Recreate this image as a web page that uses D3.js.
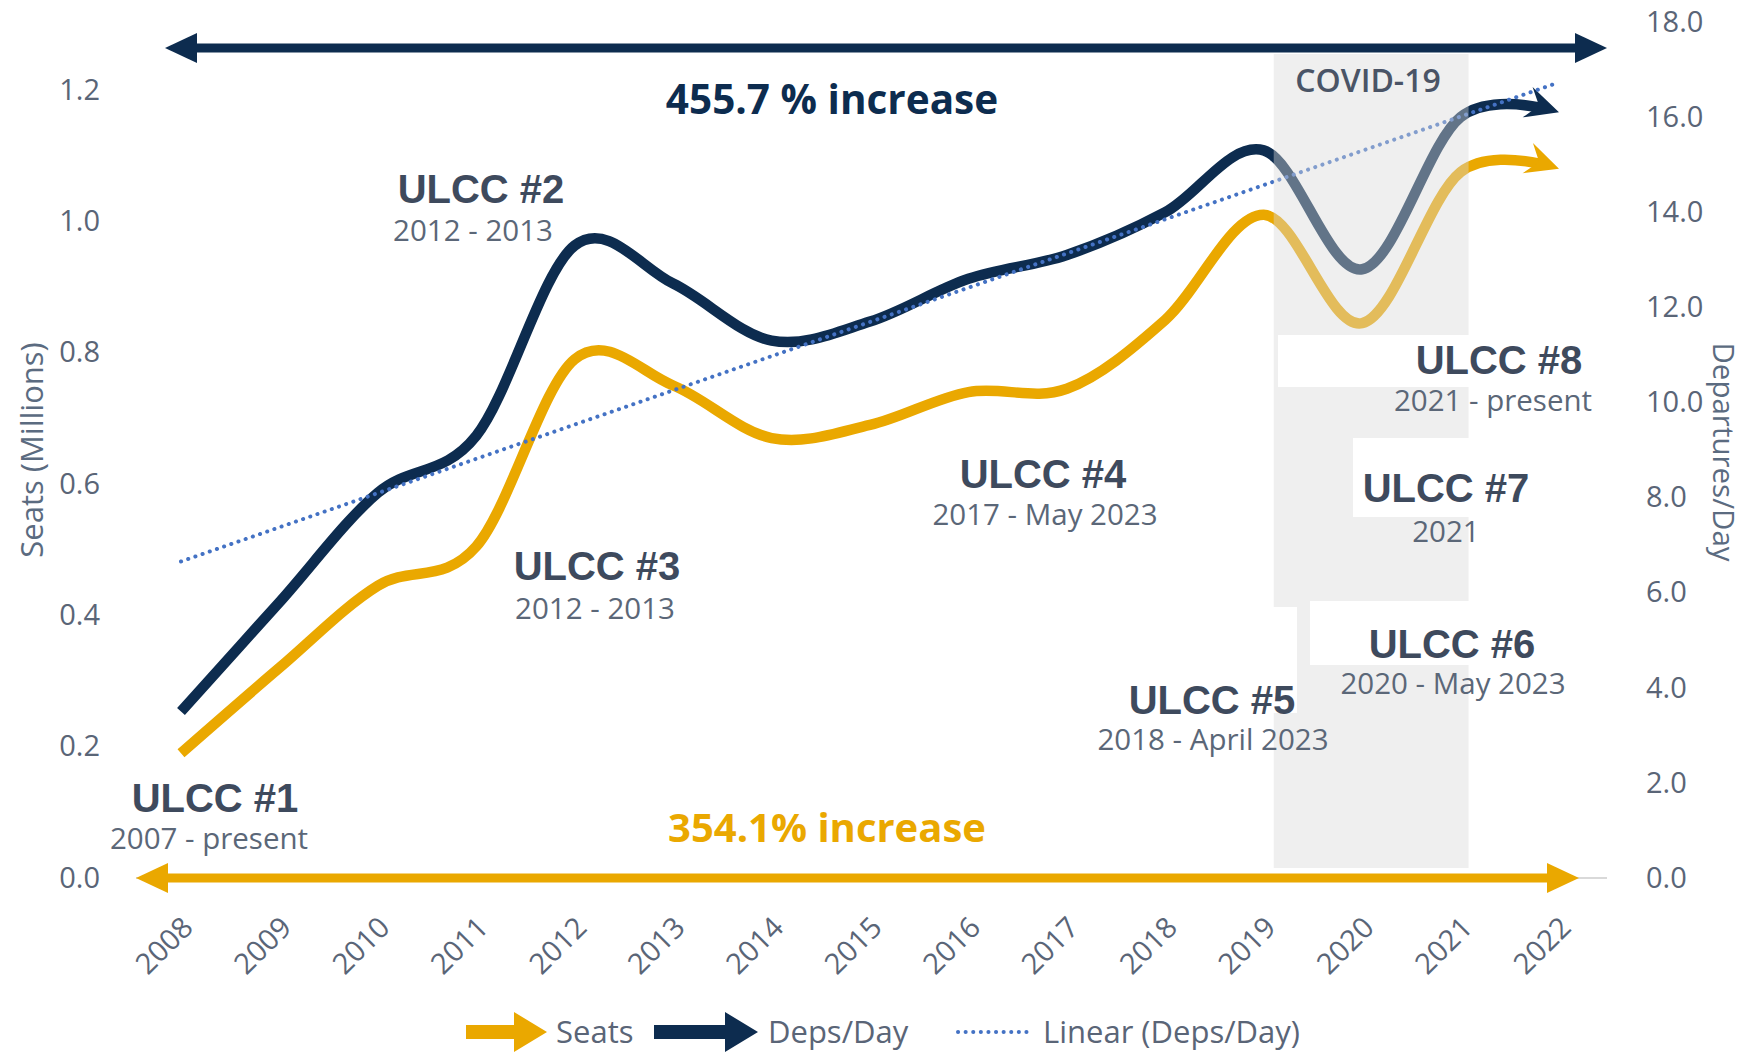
<!DOCTYPE html>
<html>
<head>
<meta charset="utf-8">
<script src="https://cdn.jsdelivr.net/npm/d3@7"></script>
<style>
  body { margin: 0; background: #fff; }
  text { font-family: "Open Sans", sans-serif; }
</style>
</head>
<body>
<svg id="chart" width="1750" height="1053"></svg>
<script>
// ---- data ----
const years = ["2008", "2009", "2010", "2011", "2012", "2013", "2014", "2015",
               "2016", "2017", "2018", "2019", "2020", "2021", "2022"];
const seats = [0.19, 0.32, 0.445, 0.505, 0.79, 0.75, 0.67, 0.69, 0.74, 0.745, 0.85, 1.01, 0.845, 1.075, 1.08];
const depsPerDay = [3.5, 5.8, 8.1, 9.3, 13.3, 12.5, 11.3, 11.7, 12.6, 13.1, 14.0, 15.3, 12.8, 16.0, 16.1];
const leftTicks = [0, 0.2, 0.4, 0.6, 0.8, 1.0, 1.2];
const rightTicks = [0, 2, 4, 6, 8, 10, 12, 14, 16, 18];
const ulccTitles = ["ULCC #1", "ULCC #2", "ULCC #3", "ULCC #4", "ULCC #5", "ULCC #6", "ULCC #7", "ULCC #8"];
const ulccSpans = ["2007 - present", "2012 - 2013", "2012 - 2013", "2017 - May 2023",
                   "2018 - April 2023", "2020 - May 2023", "2021", "2021 - present"];
const covidYears = ["2019", "2021"];
const legendNames = ["Seats", "Deps/Day", "Linear (Deps/Day)"];

// ---- layout ----
const navy = "#0d2c4f", gold = "#eaa800", tickColor = "#5a6577", labelColor = "#3e4a5d";
const svg = d3.select("#chart");

const x = d3.scalePoint().domain(years).range([181, 1559]);
const yL = d3.scaleLinear().domain([0, 1.2]).range([878, 90]);
const yR = d3.scaleLinear().domain([0, 18]).range([878, 22]);

const defs = svg.append("defs");
function stealth(id, color) {
  defs.append("marker")
    .attr("id", id)
    .attr("markerUnits", "userSpaceOnUse")
    .attr("viewBox", "-36 -20 40 40")
    .attr("markerWidth", 40).attr("markerHeight", 40)
    .attr("refX", 0).attr("refY", 0)
    .attr("orient", "auto")
    .append("path")
    .attr("d", "M0,0 L-33,-16 L-21,0 L-33,16 Z")
    .attr("fill", color);
}
stealth("arrowNavy", navy);
stealth("arrowGold", gold);

// baseline
svg.append("line")
  .attr("x1", 136).attr("x2", 1607)
  .attr("y1", yL(0)).attr("y2", yL(0))
  .attr("stroke", "#d9d9d9").attr("stroke-width", 2);

// smoothed series
const smooth = d3.curveCardinal.tension(0);
const seatLine = d3.line().x((d, i) => x(years[i])).y(d => yL(d)).curve(smooth);
const depLine = d3.line().x((d, i) => x(years[i])).y(d => yR(d)).curve(smooth);

function drawSeries(values, lineGen, color, marker) {
  const p = svg.append("path")
    .attr("d", lineGen(values))
    .attr("fill", "none")
    .attr("stroke", color)
    .attr("stroke-width", 10.5)
    .attr("marker-end", `url(#${marker})`);
  const len = p.node().getTotalLength();
  p.attr("stroke-dasharray", `${len - 20} 1000`); // stop the shaft inside the head
}
drawSeries(seats, seatLine, gold, "arrowGold");
drawSeries(depsPerDay, depLine, navy, "arrowNavy");

// linear trend of Deps/Day (least squares)
const n = depsPerDay.length;
const mx = d3.mean(depsPerDay, (d, i) => i);
const my = d3.mean(depsPerDay);
const slope = d3.sum(depsPerDay, (d, i) => (i - mx) * (d - my)) / d3.sum(depsPerDay, (d, i) => (i - mx) ** 2);
const icpt = my - slope * mx;
svg.append("line")
  .attr("x1", x(years[0])).attr("y1", yR(icpt))
  .attr("x2", x(years[n - 1])).attr("y2", yR(icpt + slope * (n - 1)))
  .attr("stroke", "#4472c4").attr("stroke-width", 4)
  .attr("stroke-linecap", "round")
  .attr("stroke-dasharray", "0.1 7.5");

// COVID band (drawn over the lines, semi transparent)
svg.append("rect")
  .attr("x", x(covidYears[0]) + 10).attr("y", 54)
  .attr("width", x(covidYears[1]) - x(covidYears[0]) - 2)
  .attr("height", 814)
  .attr("fill", "#d9d9d9").attr("fill-opacity", 0.42);

svg.append("text")
  .attr("x", 1368).attr("y", 81).attr("dy", "0.35em")
  .attr("text-anchor", "middle")
  .attr("font-size", 32).attr("font-weight", 600)
  .attr("fill", "#4a5466")
  .text("COVID-19");

// white boxes behind label titles
const boxes = [
  { x: 1278, y: 335, w: 320, h: 52 },
  { x: 1353, y: 438, w: 245, h: 79 },
  { x: 1310, y: 601, w: 280, h: 64 },
  { x: 1100, y: 607, w: 197, h: 106 }
];
svg.append("g").selectAll("rect").data(boxes).join("rect")
  .attr("x", d => d.x).attr("y", d => d.y)
  .attr("width", d => d.w).attr("height", d => d.h)
  .attr("fill", "#fff");

// ULCC labels
const labelPos = [
  [215, 798, 209, 839], [481, 189, 473, 231], [597, 566, 595, 609], [1043, 474, 1045, 515],
  [1212, 700, 1213, 740], [1452, 644, 1453, 684], [1446, 488, 1446, 532], [1499, 360, 1493, 401]
];
const lab = svg.append("g");
ulccTitles.forEach((t, i) => {
  const p = labelPos[i];
  lab.append("text")
    .attr("x", p[0]).attr("y", p[1]).attr("dy", "0.36em")
    .attr("text-anchor", "middle")
    .style("font-family", "'Liberation Sans', Arial, sans-serif")
    .attr("font-weight", "bold").attr("font-size", 40)
    .attr("fill", labelColor)
    .text(t);
  lab.append("text")
    .attr("x", p[2]).attr("y", p[3]).attr("dy", "0.35em")
    .attr("text-anchor", "middle")
    .attr("font-size", 29.5)
    .attr("fill", "#5b6778")
    .text(ulccSpans[i]);
});

// increase arrows
function doubleArrow(x1, x2, y, color) {
  const g = svg.append("g").attr("fill", color);
  g.append("line").attr("x1", x1 + 20).attr("x2", x2 - 20).attr("y1", y).attr("y2", y)
    .attr("stroke", color).attr("stroke-width", 9);
  g.append("path").attr("d", `M${x1},${y} L${x1 + 32},${y - 15} L${x1 + 32},${y + 15} Z`);
  g.append("path").attr("d", `M${x2},${y} L${x2 - 32},${y - 15} L${x2 - 32},${y + 15} Z`);
}
doubleArrow(165, 1607, 48, navy);
doubleArrow(136, 1579, yL(0), gold);

svg.append("text")
  .attr("x", 832).attr("y", 100).attr("dy", "0.35em")
  .attr("text-anchor", "middle")
  .attr("font-size", 40.5).attr("font-weight", "bold")
  .attr("fill", navy)
  .text("455.7 % increase");
svg.append("text")
  .attr("x", 827).attr("y", 828).attr("dy", "0.35em")
  .attr("text-anchor", "middle")
  .attr("font-size", 40).attr("font-weight", "bold")
  .attr("fill", gold)
  .text("354.1% increase");

// axes
const axL = svg.append("g").attr("transform", "translate(100,0)")
  .call(d3.axisLeft(yL).tickValues(leftTicks).tickFormat(d3.format(".1f")).tickSize(0).tickPadding(0));
const axR = svg.append("g").attr("transform", "translate(1646,0)")
  .call(d3.axisRight(yR).tickValues(rightTicks).tickFormat(d3.format(".1f")).tickSize(0).tickPadding(0));
const axX = svg.append("g").attr("transform", `translate(0,${yL(0)})`)
  .call(d3.axisBottom(x).tickSize(0));
[axL, axR, axX].forEach(a => {
  a.select(".domain").remove();
  a.selectAll("text")
    .style("font-family", "'Open Sans', sans-serif")
    .attr("font-size", 29)
    .attr("fill", tickColor);
});
axX.selectAll("text")
  .attr("text-anchor", "end")
  .attr("x", 0).attr("y", 0).attr("dy", "0.35em")
  .attr("transform", "translate(6,44) rotate(-45)");

svg.append("text")
  .attr("transform", "translate(32,450) rotate(-90)")
  .attr("text-anchor", "middle").attr("dy", "0.35em")
  .attr("font-size", 31).attr("fill", "#5b6b80")
  .text("Seats (Millions)");
svg.append("text")
  .attr("transform", "translate(1723,452) rotate(90)")
  .attr("text-anchor", "middle").attr("dy", "0.35em")
  .attr("font-size", 29.5).attr("fill", "#5b6b80")
  .text("Departures/Day");

// legend
const ly = 1032;
const leg = svg.append("g");
function blockArrow(x0, len, color) {
  const hx = x0 + len - 33;
  leg.append("path")
    .attr("d", `M${x0},${ly - 7} L${hx},${ly - 7} L${hx},${ly - 20} L${x0 + len},${ly} L${hx},${ly + 20} L${hx},${ly + 7} L${x0},${ly + 7} Z`)
    .attr("fill", color);
}
blockArrow(466, 81, gold);
blockArrow(654, 104, navy);
leg.append("line")
  .attr("x1", 958).attr("x2", 1029).attr("y1", ly).attr("y2", ly)
  .attr("stroke", "#4472c4").attr("stroke-width", 4)
  .attr("stroke-linecap", "round").attr("stroke-dasharray", "0.1 7.5");
const legX = [556, 768, 1043];
legendNames.forEach((name, i) => {
  leg.append("text")
    .attr("x", legX[i]).attr("y", ly).attr("dy", "0.35em")
    .attr("font-size", 31).attr("fill", tickColor)
    .text(name);
});
</script>
</body>
</html>
